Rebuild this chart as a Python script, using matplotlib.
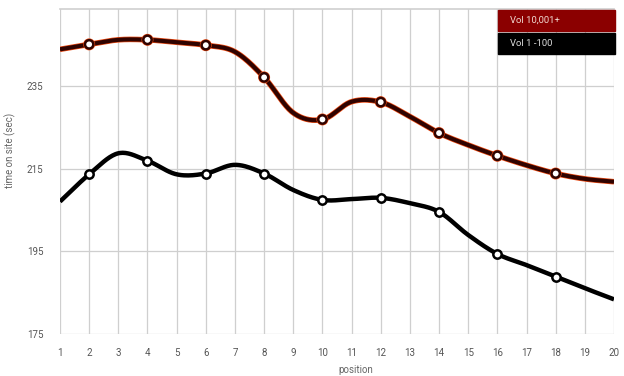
import numpy as np
import matplotlib
matplotlib.use("Agg")
import matplotlib.pyplot as plt
import matplotlib.patheffects as pe
from matplotlib.patches import Rectangle

plt.rcParams["font.family"] = ["Roboto", "DejaVu Sans"]

# position 1..20, time on site (sec)
positions = list(range(1, 21))
vol_high = [244.0, 245.2, 246.3, 246.3, 245.7, 245.0, 243.4, 237.2, 228.6, 227.0,
            231.3, 231.2, 227.7, 223.7, 220.8, 218.2, 215.9, 213.9, 212.6, 211.9]
vol_low = [207.1, 213.7, 218.8, 217.0, 213.7, 213.9, 216.0, 213.9, 209.9, 207.5,
           207.7, 208.0, 206.7, 204.6, 199.0, 194.4, 191.7, 188.9, 186.1, 183.4]
marker_pos = [2, 4, 6, 8, 10, 12, 14, 16, 18]
y_ticks = [175, 195, 215, 235]
labels = ["Vol 10,001+", "Vol 1 -100"]


def smooth(xs, ys, n=20):
    # cubic hermite curve through the points, for a spline-like line
    xs = np.asarray(xs, float); ys = np.asarray(ys, float)
    m = np.gradient(ys, xs)
    ox, oy = [], []
    for i in range(len(xs) - 1):
        t = np.linspace(0, 1, n, endpoint=False)
        h = xs[i + 1] - xs[i]
        h00 = 2 * t**3 - 3 * t**2 + 1
        h10 = t**3 - 2 * t**2 + t
        h01 = -2 * t**3 + 3 * t**2
        h11 = t**3 - t**2
        ox.extend(xs[i] + t * h)
        oy.extend(h00 * ys[i] + h10 * h * m[i] + h01 * ys[i + 1] + h11 * h * m[i + 1])
    ox.append(xs[-1]); oy.append(ys[-1])
    return np.array(ox), np.array(oy)


fig = plt.figure(figsize=(6.24, 3.76), dpi=100)
ax = fig.add_axes([60 / 624, 42 / 376, 554 / 624, 324.7 / 376])
ax.set_xlim(1, 20)
ax.set_ylim(175, 253.7)

for x in positions:
    ax.axvline(x, color="#cfcfcf", lw=0.9, zorder=0)
for y in y_ticks:
    ax.axhline(y, color="#cfcfcf", lw=0.9, zorder=0)
ax.axhline(253.7, color="#cfcfcf", lw=1.2, zorder=0, clip_on=False)
for s in ax.spines.values():
    s.set_visible(False)

hx, hy = smooth(positions, vol_high)
ax.plot(hx, hy, color="#300300", lw=3.0, solid_capstyle="butt", zorder=3,
        path_effects=[pe.Stroke(linewidth=4.0, foreground="#ee4a12"), pe.Normal()])
lx, ly = smooth(positions, vol_low)
ax.plot(lx, ly, color="#000000", lw=3.2, solid_capstyle="butt", zorder=3)

mh = [vol_high[p - 1] for p in marker_pos]
ml = [vol_low[p - 1] for p in marker_pos]
ax.plot(marker_pos, mh, ls="none", marker="o", ms=6.0, mfc="white", mec="#300300",
        mew=1.8, zorder=4,
        path_effects=[pe.Stroke(linewidth=2.6, foreground="#ee4a12"), pe.Normal()])
ax.plot(marker_pos, ml, ls="none", marker="o", ms=6.0, mfc="white", mec="black",
        mew=1.8, zorder=4)

ax.set_xticks(positions)
ax.set_yticks(y_ticks)
ax.tick_params(length=0, labelsize=7, colors="#555555")
ax.tick_params(axis="x", pad=10)
ax.tick_params(axis="y", pad=12)

fig.text(10 / 624, 1 - 150 / 376, "time on site (sec)", rotation=90, ha="center",
         va="center", fontsize=7, color="#666666")
fig.text(356 / 624, 1 - 365 / 376, "position", ha="center", va="top", fontsize=7,
         color="#666666")

# legend boxes
for i, (lab, col) in enumerate(zip(labels, ["#8b0000", "#000000"])):
    y0 = 1 - (31 + i * 23) / 376
    fig.patches.append(Rectangle((498 / 624, y0), 117 / 624, 21 / 376,
                                 transform=fig.transFigure, color=col, zorder=5))
    fig.text(510 / 624, y0 + 10.5 / 376, lab, ha="left", va="center", fontsize=6.8,
             color="#f0d8d0" if i == 0 else "#dddddd", zorder=6)

fig.savefig("out.png", dpi=100, facecolor="white")
